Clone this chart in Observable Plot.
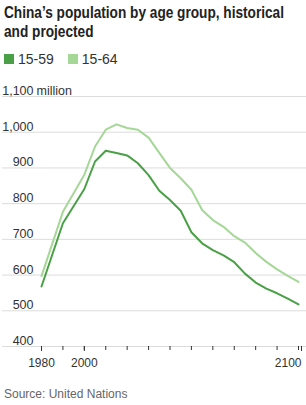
<!DOCTYPE html>
<html>
<head>
<meta charset="utf-8">
<script src="https://cdn.jsdelivr.net/npm/d3@7"></script>
<script src="https://cdn.jsdelivr.net/npm/@observablehq/plot@0.6"></script>
<style>
  html, body { margin: 0; padding: 0; background: #fff; }
  body { width: 306px; height: 405px; position: relative; overflow: hidden; font-family: "Liberation Sans", Arial, sans-serif; }
  #title { position: absolute; left: 4px; top: 3px; font-family: "Liberation Sans", sans-serif; font-weight: bold; font-size: 16.5px; line-height: 18.5px; color: #222; white-space: nowrap; transform-origin: 0 0; }
  #legend { position: absolute; left: 4px; top: 51px; display: flex; align-items: center; font-size: 14px; color: #333; }
  #legend .item { display: flex; align-items: center; margin-right: 14px; }
  #legend .sw { width: 10px; height: 10px; margin-right: 4px; }
  #chart { position: absolute; left: 0; top: 80px; }
  #source { position: absolute; left: 4px; top: 387px; font-size: 12px; color: #666; }
</style>
</head>
<body>
<div id="title">China’s population by age group, historical<br>and projected</div>
<div id="legend"></div>
<div id="chart"></div>
<div id="source">Source: United Nations</div>
<script>
const years = [1980, 1990, 2000, 2005, 2010, 2015, 2020, 2025, 2030, 2035, 2040, 2045, 2050, 2055, 2060, 2065, 2070, 2075, 2080, 2085, 2090, 2095, 2100];
const pop1559 = [568, 745, 841, 918, 948, 942, 935, 913, 880, 836, 810, 780, 720, 689, 670, 655, 636, 604, 579, 562, 549, 534, 518];
const pop1564 = [597, 777, 881, 960, 1007, 1022, 1012, 1007, 985, 942, 900, 871, 839, 782, 754, 735, 709, 691, 662, 637, 616, 598, 581];
const seriesNames = ["15-59", "15-64"];
const seriesColors = ["#4aa047", "#a5d797"];
const yTicks = [400, 500, 600, 700, 800, 900, 1000, 1100];
const xTicks = [1980, 1990, 2000, 2010, 2020, 2030, 2040, 2050, 2060, 2070, 2080, 2090, 2100];
const xLabelsCentered = [1980, 2000];
const xLabelsEnd = [2100];

// condense the title to the reference width
const title = document.getElementById("title");
const tw = title.getBoundingClientRect().width;
title.style.transform = `scaleX(${Math.min(1, 280 / tw)})`;

const data = [];
years.forEach((y, i) => {
  data.push({year: y, value: pop1559[i], series: seriesNames[0]});
  data.push({year: y, value: pop1564[i], series: seriesNames[1]});
});

const legend = document.getElementById("legend");
seriesNames.forEach((n, i) => {
  const it = document.createElement("div");
  it.className = "item";
  it.innerHTML = `<span class="sw" style="background:${seriesColors[i]}"></span><span>${n}</span>`;
  legend.appendChild(it);
});

const fmt = d3.format(",");
const chart = Plot.plot({
  width: 306,
  height: 294,
  marginLeft: 2,
  marginRight: 0,
  marginTop: 16,
  marginBottom: 28,
  style: {fontFamily: "'Liberation Sans', Arial, sans-serif", fontSize: "12px", color: "#333", background: "#fff"},
  x: {domain: [1980, 2100], range: [41, 298], label: null},
  y: {domain: [400, 1100], axis: null, label: null},
  color: {domain: seriesNames, range: seriesColors},
  marks: [
    Plot.ruleY(yTicks, {stroke: "#dcdcdc", strokeWidth: 1}),
    Plot.text(yTicks, {y: d => d, text: d => fmt(d), frameAnchor: "left", dx: 31, dy: -1.5, textAnchor: "end", lineAnchor: "bottom", fill: "#333", fontSize: 12.5}),
    Plot.text([1100], {y: d => d, text: () => "million", frameAnchor: "left", dx: 34, dy: -1.5, textAnchor: "start", lineAnchor: "bottom", fill: "#333", fontSize: 12.5}),
    Plot.axisX({ticks: xTicks, tickSize: 4, tickFormat: () => "", stroke: "#333", label: null}),
    Plot.axisX({ticks: xLabelsCentered, tickSize: 5, tickPadding: 7, tickFormat: d => String(d), stroke: "#333", fill: "#333", fontSize: 12, label: null}),
    Plot.axisX({ticks: xLabelsEnd, tickSize: 5, tickPadding: 7, tickFormat: d => String(d), textAnchor: "end", dx: 3, stroke: "#333", fill: "#333", fontSize: 12, label: null}),
    Plot.line(data, {x: "year", y: "value", z: "series", stroke: "series", strokeWidth: 2, curve: "linear"})
  ]
});
document.getElementById("chart").appendChild(chart);
</script>
</body>
</html>
